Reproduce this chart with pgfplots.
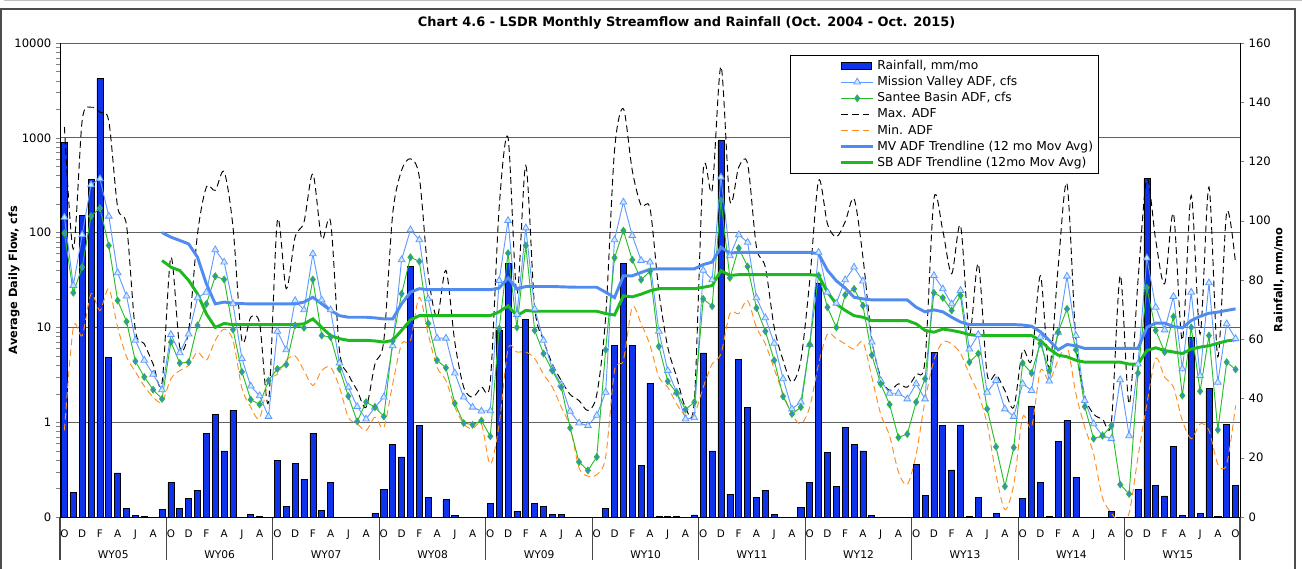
\documentclass[border=0pt]{standalone}
\usepackage{fontspec}
\setmainfont{DejaVu Sans}
\usepackage{pgfplots}
\pgfplotsset{compat=1.18}
\usepackage{pgfplotstable}

\definecolor{barblue}{RGB}{15,50,235}
\definecolor{mvline}{RGB}{95,155,255}
\definecolor{mvfill}{RGB}{205,232,255}
\definecolor{sbline}{RGB}{40,190,40}
\definecolor{sbfill}{RGB}{60,140,205}
\definecolor{minorange}{RGB}{255,140,30}
\definecolor{mvtrend}{RGB}{80,140,240}
\definecolor{sbtrend}{RGB}{30,185,30}

% month index 0 = Oct 2004 ... 132 = Oct 2015
\pgfplotstableread{
m rain mv sb mx mn
0 126.4 145 98.7 1300 0.82
1 8.2 27.7 23.2 67 10
2 101.8 94.8 43.2 1520 8.2
3 114.0 319 149 2100 22.6
4 148.1 370 181 1860 15
5 53.8 149 73.1 1500 25.6
6 14.9 37.7 19.2 185 10
7 2.9 21.4 11.5 119 4.9
8 0.5 7.3 4.4 9.3 3.4
9 0.2 4.5 3.0 6.7 2.4
10 0 3.2 2.2 4.1 1.84
11 2.5 2.2 1.76 2.6 1.63
12 11.6 8.4 7.0 55 2.87
13 2.9 5.4 4.2 6.2 3.5
14 6.3 8.5 4.3 9.3 3.96
15 9.0 20.5 10.5 97 5.5
16 28.2 23.5 17.7 302 4.5
17 34.5 65.8 34.7 279 7.3
18 22.3 48.8 32.0 437 9.6
19 35.9 17.7 9.5 114 7.3
20 0 4.7 3.4 7.3 2.3
21 1.0 2.4 1.73 12.8 1.44
22 0.2 1.9 1.54 11 1.1
23 0 1.15 2.75 1.63 2.75
24 19.2 9.1 3.65 134 3.2
25 3.7 5.8 4.06 25.6 4.5
26 18.0 19.2 10.5 90 5.0
27 12.7 15.3 9.9 129 3.5
28 28.3 59.7 32 417 2.44
29 2.3 19.5 8.2 86 3.5
30 11.6 15.3 7.9 129 3.8
31 0 4.2 3.65 5.7 2.34
32 0 2.34 1.88 3.2 1.13
33 0 1.46 1.02 2.16 0.96
34 0 1.08 1.63 1.44 0.82
35 1.2 1.44 1.44 4.1 1.13
36 9.4 1.84 1.15 7.3 0.88
37 24.6 6.4 7.2 158 2.54
38 20.3 51.6 22.6 453 6.7
39 84.7 107 55 600 7.3
40 30.8 84 49.6 385 20.8
41 6.5 20 11 36.7 8.5
42 0 7.7 4.5 12.8 3.8
43 5.8 7.7 3.75 40 2.75
44 0.5 3.3 1.58 7 1.45
45 0 1.84 0.98 2.34 0.96
46 0 1.44 0.94 1.84 0.85
47 0 1.31 1.04 2.34 0.96
48 4.5 1.32 0.71 2.7 0.36
49 63.1 31.3 9.7 185 0.96
50 85.7 134 60.7 1000 5.9
51 1.9 13.7 10 22.6 5.5
52 66.8 112 73 510 5.5
53 4.5 15.7 9.3 16.3 4.7
54 3.5 7.3 5.3 7.3 3.2
55 1.0 3.65 3.5 4.1 2.34
56 0.8 2.5 2.34 2.75 1.44
57 0 1.3 0.87 1.96 0.89
58 0 0.98 0.38 1.69 0.33
59 0 0.92 0.31 1.33 0.27
60 0 1.18 0.43 1.96 0.28
61 2.9 2.07 5.8 12.8 0.43
62 58 84 54.2 735 3.5
63 85.7 210 105 2024 4.5
64 58 93 51.6 453 16.3
65 17.3 50.8 31.8 193 10.9
66 45.2 48.8 39 180 6.5
67 0.2 9.1 6.3 24 3.0
68 0.3 3.5 2.7 6.2 2.34
69 0.3 2.07 2.04 3.0 1.56
70 0 1.08 1.36 1.44 1.18
71 0.7 1.11 1.63 1.7 1.22
72 55.4 40 20 453 2.34
73 22.3 31.8 16.7 279 4.1
74 127 385 218 5660 5.3
75 7.7 57 33.3 218 14
76 53.3 94.8 68.6 490 14
77 37 79 43.9 532 19.2
78 6.5 20.5 16 70 10
79 9.1 12.6 9.1 43 6.7
80 0.9 6.8 4.5 10 3.65
81 0 2.87 1.87 4.5 1.99
82 0 1.38 1.22 2.64 1.22
83 3.2 1.63 1.44 4.5 0.96
84 11.6 6.6 6.6 31 1.44
85 78.9 62 35.3 355 4.1
86 21.8 23.5 16.3 124 8.5
87 10.3 18 10 90 7.6
88 30.2 31.8 22 130 6.7
89 24.6 43.2 25.5 227 5.9
90 22.3 30.8 17 55 7.0
91 0.6 7.0 5.1 7.5 3.0
92 0 2.75 2.54 3.0 1.22
93 0 2.02 1.54 2.16 0.72
94 0 2.02 0.69 2.54 0.3
95 0 1.76 0.75 2.34 0.22
96 17.8 2.54 1.63 3.2 0.46
97 7.4 1.76 2.87 4.5 1.69
98 55.6 35.3 23.2 227 4.5
99 30.8 25.5 20.5 105 7.0
100 15.9 17.7 15.1 36.8 6.7
101 31.1 24.5 21.7 119 5.3
102 0.3 5.9 4.3 8.5 3.2
103 6.5 8.4 5.3 46.9 2.0
104 0 2.07 1.38 3.2 0.96
105 1.2 2.75 0.55 3.2 0.28
106 0 1.38 0.21 2.16 0.12
107 0 1.15 0.54 1.44 0.22
108 6.3 2.54 4.2 5.7 1.13
109 37.5 2.16 3.3 4.5 0.89
110 11.6 7.9 6.8 35 3.5
111 0.3 2.71 3.5 3.65 2.75
112 25.4 8.9 8.9 43 4.5
113 32.5 34.7 15.7 327 6.4
114 13.5 8.2 5.8 7.3 2.0
115 0 1.69 1.46 1.9 0.89
116 0 0.96 0.67 1.22 0.46
117 0 0.72 0.72 1.08 0.16
118 2.0 0.67 0.92 1.0 0.11
119 0 2.8 0.22 35.3 0.09
120 0 0.72 0.175 1.56 0.11
121 9.4 4.1 3.3 31 0.43
122 114.2 54 26.2 370 1.56
123 10.7 16.3 9.3 83 4.7
124 7.1 9.4 5.5 28.8 3.0
125 23.7 21.2 13 158 2.34
126 0.6 3.65 1.91 7.3 1.04
127 60.7 23.5 10 246 0.67
128 1.1 3.1 2.12 8.5 0.96
129 43.4 29.5 8.2 302 0.82
130 0.2 2.64 0.83 4.9 0.36
131 31.3 10.9 4.3 164 0.36
132 10.8 7.6 3.6 46.8 1.5
}\flow

% 12 month moving averages
\pgfplotstableread{
m mvt sbt
11 100 50.8
12 89.6 43.2
13 82.6 39.8
14 76 31.3
15 55 22.6
16 28.8 13.9
17 17.7 10
18 18.5 11
19 18 10.7
20 17.8 10.7
21 17.7 10.7
22 17.7 10.7
23 17.7 10.7
24 17.7 10.7
25 17.7 10.7
26 17.7 10.7
27 18.5 10.9
28 20.8 12.3
29 17.7 10.0
30 15.1 8.2
31 13.3 7.6
32 12.8 7.3
33 12.8 7.3
34 12.8 7.3
35 12.6 7.2
36 12.3 7.0
37 12.3 7.3
38 17.7 9.3
39 23.5 12.0
40 25.6 13.3
41 25 13.3
42 25 13.3
43 25 13.3
44 25 13.3
45 25 13.3
46 25 13.3
47 25 13.3
48 25 13.3
49 26 14.6
50 33.3 16.9
51 25.6 13.3
52 27 15.1
53 27 14.8
54 27 14.8
55 27 14.8
56 26.8 14.8
57 26.6 14.8
58 26.5 14.8
59 26.5 14.8
60 26.5 14.8
61 23.5 14
62 20.6 13.5
63 35 21.5
64 35 21
65 38 22.4
66 41 24.3
67 41.5 25.6
68 41.5 25.6
69 41.5 25.6
70 41.5 25.6
71 41.5 25.6
72 46 26.5
73 48.8 27.6
74 70 39.8
75 60.7 35.3
76 62 36
77 62 36
78 62 36
79 62 36
80 62 36
81 62 36
82 62 36
83 62 36
84 62 36
85 59.7 35.3
86 40 23.5
87 31 17.7
88 26 15.1
89 20.8 13.3
90 20 12.8
91 19.5 11.8
92 19.5 11.8
93 19.5 11.8
94 19.5 11.8
95 19.5 11.8
96 16.3 10.9
97 14.6 9.3
98 15.3 8.9
99 14.6 9.6
100 12.8 9.3
101 11.4 8.9
102 10.7 8.4
103 10.7 8.2
104 10.7 8.2
105 10.7 8.2
106 10.7 8.2
107 10.7 8.2
108 10.6 8.2
109 10.3 8.2
110 9.0 7.3
111 7.3 5.9
112 5.8 5.1
113 6.6 4.9
114 6.4 4.5
115 6.0 4.3
116 6.0 4.3
117 6.0 4.3
118 6.0 4.3
119 6.0 4.3
120 6.0 4.1
121 6.0 4.1
122 10 5.7
123 11.1 6.1
124 11.1 5.7
125 10.2 5.5
126 9.9 5.3
127 11.8 5.9
128 13.1 6.2
129 14.1 6.4
130 14.5 6.8
131 15.1 7.2
132 15.7 7.4
}\trend

\pgfplotsset{
  rainleg/.style={legend image code/.code={
    \path (-35pt,0pt);
    \draw[fill=barblue,draw=black,line width=0.6pt] (0pt,-2.5pt) rectangle (23pt,2.5pt);}},
}

\begin{document}
\begin{tikzpicture}

% rainfall bars, right axis
\begin{axis}[
  set layers,
  width=885pt, height=355.5pt, scale only axis,
  xmin=-0.5, xmax=132.5, ymin=0, ymax=160,
  axis y line*=right, axis x line*=bottom,
  ytick={0,20,...,160},
  xtick={5.5,17.5,...,125.5},
  xticklabels={WY05,WY06,WY07,WY08,WY09,WY10,WY11,WY12,WY13,WY14,WY15},
  xtick style={draw=none},
  xticklabel style={font=\fontsize{8}{9}\selectfont, yshift=-19pt},
  yticklabel style={font=\fontsize{8.7}{10}\selectfont},
  major tick length=3pt, tick align=outside,
  ylabel={\bfseries Rainfall, mm/mo},
  ylabel style={at={(axis description cs:1.033,0.5)}, anchor=center, font=\fontsize{8.5}{10}\selectfont},
  /pgf/number format/assume math mode=true,
  ybar, bar width=0.68,
]
\addplot[fill=barblue, draw=black, line width=0.5pt] table[x=m,y=rain]{\flow};
\end{axis}

% flows, left log axis
\begin{axis}[
  set layers,
  width=885pt, height=355.5pt, scale only axis,
  xmin=-0.5, xmax=132.5,
  ymode=log, ymin=0.1, ymax=10000,
  ytick={0.1,1,10,100,1000,10000},
  yticklabels={0,1,10,100,1000,10000},
  axis y line*=left, axis x line*=bottom,
  ymajorgrids, grid style={gray!75!black, line width=0.55pt},
  xtick={0,2,...,132},
  xticklabels={O,D,F,A,J,A,O,D,F,A,J,A,O,D,F,A,J,A,O,D,F,A,J,A,O,D,F,A,J,A,O,D,F,A,J,A,O,D,F,A,J,A,O,D,F,A,J,A,O,D,F,A,J,A,O,D,F,A,J,A,O,D,F,A,J,A,O},
  xtick style={draw=none},
  xticklabel style={font=\fontsize{7.8}{9}\selectfont, yshift=-3pt},
  yticklabel style={font=\fontsize{8.7}{10}\selectfont},
  major tick length=3pt, tick align=outside,
  extra x ticks={-0.5,11.5,23.5,35.5,47.5,59.5,71.5,83.5,95.5,107.5,119.5,132.5},
  extra x tick labels={},
  extra x tick style={major tick length=32pt, tick align=outside,
    xtick style={draw=gray!55!black, line width=0.8pt}},
  ylabel={\bfseries Average Daily Flow, cfs},
  ylabel style={at={(axis description cs:-0.039,0.5)}, anchor=center, font=\fontsize{8.5}{10}\selectfont},
  title={\bfseries Chart 4.6 - LSDR Monthly Streamflow and Rainfall (Oct. 2004 - Oct. 2015)},
  title style={at={(axis description cs:0.531,1)}, anchor=base, yshift=6pt, font=\fontsize{9.7}{11}\selectfont},
  legend style={at={(0.6186,0.9747)}, anchor=north west, draw=black, line width=0.7pt,
    font=\fontsize{9.2}{10}\selectfont, row sep=-0.3pt, cells={anchor=west}, inner xsep=2pt, inner ysep=1.5pt},
  legend image code/.code={
    \path (-35pt,0pt);
    \draw[mark repeat=2,mark phase=2,#1] plot coordinates {(0pt,0pt) (12pt,0pt) (24pt,0pt)};},
]
\addplot[draw=black, line width=0.7pt, dash pattern=on 5pt off 3pt, smooth, forget plot] table[x=m,y=mx]{\flow};
\addplot[draw=minorange, line width=0.7pt, dash pattern=on 5pt off 3pt, smooth, forget plot] table[x=m,y=mn]{\flow};

\addlegendimage{rainleg}
\addplot[draw=mvline, line width=0.7pt, mark=triangle*, mark size=2.9pt,
  mark options={fill=mvfill, draw=mvline, line width=0.6pt}] table[x=m,y=mv]{\flow};
\addplot[draw=sbline, line width=0.7pt, mark=diamond*, mark size=2.6pt,
  mark options={fill=sbfill, draw=sbline, line width=0.5pt}] table[x=m,y=sb]{\flow};
\addlegendimage{draw=black, line width=0.8pt, dash pattern=on 5pt off 3pt}
\addlegendimage{draw=minorange, line width=0.8pt, dash pattern=on 5pt off 3pt}
\addplot[draw=mvtrend, line width=2.2pt] table[x=m,y=mvt]{\trend};
\addplot[draw=sbtrend, line width=2.2pt] table[x=m,y=sbt]{\trend};
\legend{{Rainfall, mm/mo},{Mission Valley ADF, cfs},{Santee Basin ADF, cfs},Max. ADF,Min. ADF,MV ADF Trendline (12 mo Mov Avg),SB ADF Trendline (12mo Mov Avg)}
\end{axis}

% chart frame
\draw[gray!60!black, line width=0.9pt] (-44.2pt,-40pt) -- (-44.2pt,381pt) -- (926.2pt,381pt) -- (926.2pt,-40pt);
\draw[gray!50, line width=0.8pt] (-42pt,387.3pt) -- (935pt,387.3pt);

\pgfresetboundingbox
\path[use as bounding box] (-45pt,-38.25pt) rectangle (931.5pt,387.75pt);
\end{tikzpicture}
\end{document}
